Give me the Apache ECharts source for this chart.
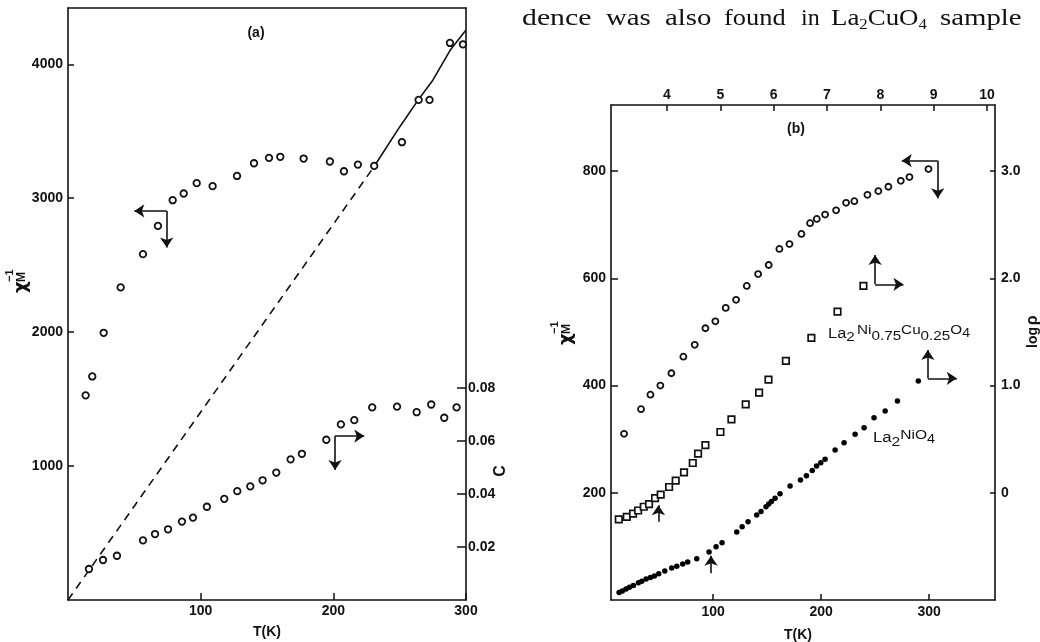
<!DOCTYPE html>
<html><head><meta charset="utf-8">
<script src="https://cdn.jsdelivr.net/npm/echarts@6/dist/echarts.min.js"></script>
<style>html,body{margin:0;padding:0;background:#fff}#c{width:1040px;height:642px}</style>
</head><body><div id="c"></div>
<script>
// ---------- Panel (a) data ----------
const aChiT = [13.3,18.3,26.9,39.7,56.5,67.8,78.9,87.2,97.0,109,127.4,140.2,151.5,160,177.6,197.4,208,218.5,230.8,251.7,264.3,272.5,287.9,297.7];
const aChi  = [1528,1669,1995,2334,2582,2793,2985,3035,3112,3090,3166,3261,3301,3309,3296,3274,3201,3251,3241,3418,3734,3734,4159,4149];
const aCT = [15.8,26.4,36.9,56.5,65.6,75.4,85.9,94.2,104.7,117.8,127.6,137.4,146.7,157,167.8,176.3,194.7,205.7,215.8,229.3,248,262.8,273.8,283.6,292.9];
const aC  = [0.0117,0.0151,0.0167,0.0225,0.0249,0.0267,0.0296,0.0311,0.0352,0.0382,0.0411,0.0429,0.0452,0.0481,0.0531,0.0552,0.0605,0.0663,0.0679,0.0727,0.0730,0.0709,0.0738,0.0688,0.0727];
const aDashT = [0, 231];
const aDashChi = [0, 3240];
const aFitT = [231,250,264,275,288,300];
const aFitChi = [3240,3532,3734,3881,4104,4255];
const aTicksT = [100,200,300];
const aTicksChi = [1000,2000,3000,4000];
const aTicksC = [0.02,0.04,0.06,0.08];
const aArrows = [[[74.4,2905],[50,2905]],[[74.4,2905],[74.4,2632]],[[201.3,1224],[201.3,970]],[[201.3,1224],[223.3,1224]]];

// ---------- Panel (b) data ----------
const bCircT = [17.6,33.3,42,51.2,61.4,72.5,83,92.9,102.1,111.7,121.3,131.2,141.7,151.5,161.4,170.7,181.8,189.8,196,203.7,213.9,223.1,230.8,242.9,253,262.3,273.8,281.8,299.4];
const bCircChi = [310,356,383,400,423,454,476,507,520,545,560,586,608,625,655,664,683,703,711,719,727,741,744,756,763,771,782,789,804];
const bSqT = [12.7,20.1,25.9,30.6,35.8,40.7,46.3,51.5,59.3,65.4,73.1,81.2,86.1,92.9,106.8,117,130.2,142.6,151.3,167.4,191,215.2,239.2];
const bSqChi = [150.5,155,161,167,174,179,190,196.5,210.8,222.6,238.2,255.6,273,289,313.4,337,365,386.8,411,446,489,538,586];
const bDotT = [13,16,19.4,22.5,26.2,30.9,34,38,42,45.7,49.7,55.3,61.7,66.4,71.9,76.5,84.9,96.3,102.8,108.3,121.9,126.9,132.4,140.4,144.4,149,151.5,154,157.4,162,171.3,180.9,186.4,191.8,195.8,199.7,203.7,213,221.3,231.5,239.8,249,259.3,270.7,290];
const bDotChi = [14,17,20.5,24,27,32,35,39,42,45,49,54,59.7,62.8,67,71,77,89.6,99.5,107,126.9,136.8,146,158.6,165,174,179,184,189.7,198,212.7,224,232,241.5,250,256,262.4,279.9,293.5,309,321.5,340,352.6,371.3,408.6];
const bTicksT = [100,200,300];
const bTicksTop = [4,5,6,7,8,9,10];
const bTicksChi = [200,400,600,800];
const bTicksLogRho = [0,1,2,3];
const bArrows = [[[308,819.6],[274.7,819.6]],[[308,819.6],[308,749.4]],
  [[250,589],[250,643.7]],[[250,589],[276.2,589]],
  [[298.8,413.6],[298.8,466.4]],[[298.8,413.6],[325.6,413.6]],
  [[49.4,146],[49.4,177]],[[98.1,49.8],[98.1,82.6]]];

const ink = '#111';
const FONT = 'Liberation Sans';
const zip = (xs, ys) => xs.map((x, i) => [x, ys[i]]);

function axis(o) {
  return {
    type: 'value', gridIndex: o.grid, position: o.pos, min: o.min, max: o.max,
    splitLine: {show: false},
    axisLine: {show: true, onZero: false, lineStyle: {color: ink, width: 1.6}},
    axisTick: {show: !!o.ticks, inside: true, length: o.tickLen || 6,
      lineStyle: {color: ink, width: 1.5}, customValues: o.ticks || []},
    axisLabel: {show: !!o.ticks, color: ink, fontFamily: FONT, fontSize: 14, fontWeight: 'bold',
      margin: o.margin != null ? o.margin : 5, customValues: o.ticks || [],
      formatter: o.fmt || (v => String(v))}
  };
}

const mctx = document.createElement('canvas').getContext('2d');
function tw(t, size, fam, weight) { mctx.font = (weight || 'normal') + ' ' + size + 'px "' + fam + '"'; return mctx.measureText(t).width; }
function pieces(x, y, parts, fam, opts) {
  opts = opts || {};
  let cx = 0; const children = [];
  parts.forEach(([t, s, dy]) => {
    children.push({type: 'text', x: cx, y: dy,
      style: {text: t, fontSize: s, fontFamily: fam, fontWeight: opts.weight || 'normal', fill: ink,
        verticalAlign: 'middle', align: 'left'}});
    cx += tw(t, s, fam, opts.weight) + (opts.spacing || 0);
  });
  let scaleX = opts.scaleX || 1;
  if (opts.fitWidth) scaleX = opts.fitWidth / cx;
  return {type: 'group', x, y, rotation: opts.rotation || 0, scaleX, children};
}
function txt(x, y, t, size, extra) {
  return Object.assign({type: 'text', x, y, style: {text: t, fontSize: size, fontFamily: FONT, fontWeight: 'bold', fill: ink,
    align: 'center', verticalAlign: 'middle'}}, extra || {});
}
function chiLabel(x, y) {
  return {type: 'group', x, y, rotation: Math.PI / 2, children: [
    {type: 'text', x: 0, y: 0, style: {text: 'χ', fontSize: 18, fontFamily: 'DejaVu Sans', fontWeight: 'bold', fill: ink, verticalAlign: 'middle'}},
    {type: 'text', x: 11, y: 1, style: {text: 'M', fontSize: 12, fontFamily: FONT, fontWeight: 'bold', fill: ink, verticalAlign: 'middle'}},
    {type: 'text', x: 11, y: -11, style: {text: '−1', fontSize: 11, fontFamily: FONT, fontWeight: 'bold', fill: ink, verticalAlign: 'middle'}}
  ]};
}

// Paragraph words: [text parts, left x, horizontal scale]
const serif = 'Liberation Serif';
const paraWords = [
  [[['dence', 24, 0]], 522, 1.24],
  [[['was', 24, 0]], 606, 1.2],
  [[['also', 24, 0]], 665, 1.2],
  [[['found', 24, 0]], 724, 1.1],
  [[['in', 24, 0]], 801, 1.0],
  [[['La', 24, 0], ['2', 15, 6], ['CuO', 24, 0], ['4', 15, 6]], 831, 1.12],
  [[['sample', 24, 0]], 940, 1.2]
];

const chart = echarts.init(document.getElementById('c'), null, {renderer: 'canvas'});

const circle = (size) => ({symbol: 'circle', symbolSize: size,
  itemStyle: {color: '#fff', borderColor: ink, borderWidth: 1.8, opacity: 1}});

function arrowSeries(list, xi, yi) {
  return {type: 'lines', coordinateSystem: 'cartesian2d', xAxisIndex: xi, yAxisIndex: yi,
    symbol: ['none', 'arrow'], symbolSize: [7, 10],
    lineStyle: {color: ink, width: 1.6, opacity: 1},
    data: list.map(c => ({coords: c})), silent: true, z: 5};
}

const option = {
  animation: false,
  backgroundColor: '#fff',
  grid: [
    {left: 68, top: 8, width: 398, height: 592},
    {left: 611, top: 105, width: 384, height: 495}
  ],
  xAxis: [
    axis({grid: 0, pos: 'bottom', min: 0, max: 300, ticks: aTicksT, tickLen: 7, margin: 4}),
    axis({grid: 0, pos: 'top', min: 0, max: 300}),
    axis({grid: 1, pos: 'bottom', min: 5.5, max: 361, ticks: bTicksT, tickLen: 6, margin: 5}),
    axis({grid: 1, pos: 'top', min: 2.95, max: 10.15, ticks: bTicksTop, tickLen: 6, margin: 3})
  ],
  yAxis: [
    axis({grid: 0, pos: 'left', min: 0, max: 4420, ticks: aTicksChi, tickLen: 6, margin: 5}),
    axis({grid: 0, pos: 'right', min: 0, max: 0.2235, ticks: aTicksC, tickLen: 9, margin: 2,
      fmt: v => v.toFixed(2)}),
    axis({grid: 1, pos: 'left', min: 0, max: 923.5, ticks: bTicksChi, tickLen: 7, margin: 5}),
    axis({grid: 1, pos: 'right', min: -1, max: 3.6175, ticks: bTicksLogRho, tickLen: 5, margin: 6,
      fmt: v => v === 0 ? '0' : v.toFixed(1)})
  ],
  series: [
    {type: 'line', xAxisIndex: 0, yAxisIndex: 0, data: zip(aDashT, aDashChi), showSymbol: false,
      lineStyle: {color: ink, width: 1.6, type: [8, 6]}, silent: true},
    {type: 'line', xAxisIndex: 0, yAxisIndex: 0, data: zip(aFitT, aFitChi), showSymbol: false,
      lineStyle: {color: ink, width: 1.6}, silent: true},
    Object.assign({type: 'scatter', xAxisIndex: 0, yAxisIndex: 0, data: zip(aChiT, aChi), z: 4}, circle(6.5)),
    Object.assign({type: 'scatter', xAxisIndex: 0, yAxisIndex: 1, data: zip(aCT, aC), z: 4}, circle(6.5)),
    arrowSeries(aArrows, 0, 0),
    Object.assign({type: 'scatter', xAxisIndex: 2, yAxisIndex: 2, data: zip(bCircT, bCircChi), z: 4}, circle(6)),
    {type: 'scatter', xAxisIndex: 2, yAxisIndex: 2, data: zip(bSqT, bSqChi), symbol: 'rect', symbolSize: 6.5,
      itemStyle: {color: '#fff', borderColor: ink, borderWidth: 1.7, opacity: 1}, z: 4},
    {type: 'scatter', xAxisIndex: 2, yAxisIndex: 2, data: zip(bDotT, bDotChi), symbol: 'circle', symbolSize: 5.5,
      itemStyle: {color: '#000', opacity: 1}, z: 4},
    arrowSeries(bArrows, 2, 2)
  ],
  graphic: [
    txt(256, 33, '(a)', 14),
    txt(796, 129, '(b)', 14),
    txt(267, 632, 'T(K)', 14),
    txt(798, 635, 'T(K)', 14),
    txt(501, 471, 'C', 16, {rotation: Math.PI / 2}),
    pieces(1033, 348, [['log', 14, 0], [' ', 6, 0], ['ρ', 16, 0]], FONT, {rotation: Math.PI / 2, weight: 'bold'}),
    chiLabel(21, 293),
    chiLabel(566, 345),
    pieces(828, 331, [['La', 14, 3], ['2', 13, 6], [' ', 7, 0], ['Ni', 13, -1], ['0.75', 13, 5], ['Cu', 13, -1], ['0.25', 13, 5], ['O', 13, -1], ['4', 12, 3]], FONT, {fitWidth: 142}),
    pieces(873, 437, [['La', 14, 1], ['2', 13, 5], ['NiO', 13, -2], ['4', 12, 3]], FONT, {fitWidth: 62})
  ].concat(paraWords.map(([parts, x, s]) => pieces(x, 19, parts, serif, {scaleX: s})))
};
chart.setOption(option);
</script>
</body></html>
